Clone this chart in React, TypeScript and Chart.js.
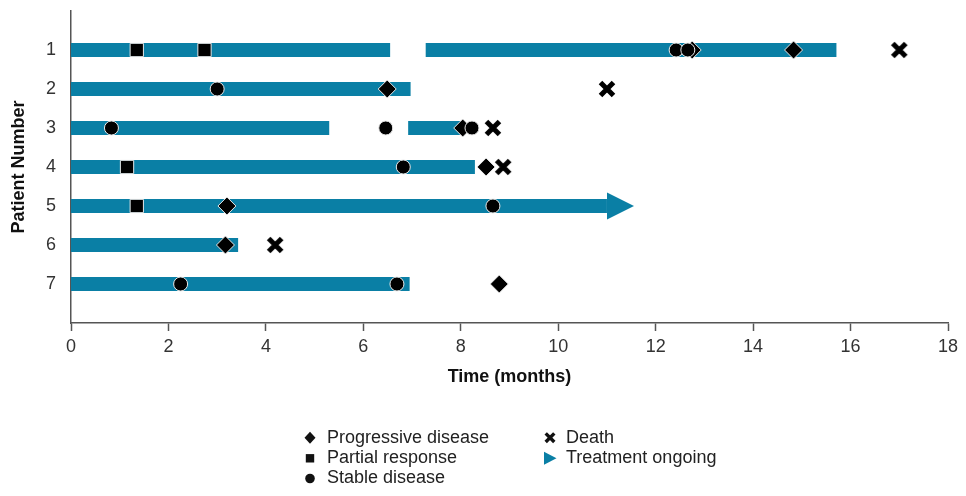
import React, { useEffect, useRef } from "react";
import { Chart, registerables } from "chart.js";

Chart.register(...registerables);

// ---- data (months) ----
const patientNumbers = [1, 2, 3, 4, 5, 6, 7];
const xTickStep = 2;
const xMax = 18;

// [patient, start month, end month]
const treatmentSegments: [number, number, number][] = [
  [1, 0, 6.55],
  [1, 7.28, 15.71],
  [2, 0, 6.97],
  [3, 0, 5.3],
  [3, 6.92, 8.05],
  [4, 0, 8.29],
  [5, 0, 11.0],
  [6, 0, 3.43],
  [7, 0, 6.95],
];

// [patient, month]
const progressiveDisease: [number, number][] = [
  [1, 12.75], [1, 14.83], [2, 6.49], [3, 8.04], [4, 8.52], [5, 3.2], [6, 3.17], [7, 8.79],
];
const partialResponse: [number, number][] = [
  [1, 1.35], [1, 2.74], [4, 1.15], [5, 1.35],
];
const stableDisease: [number, number][] = [
  [1, 12.42], [1, 12.66], [2, 3.0], [3, 0.83], [3, 6.46], [3, 8.23], [4, 6.82], [5, 8.66], [7, 2.25], [7, 6.69],
];
const deaths: [number, number][] = [
  [1, 17.0], [2, 11.0], [3, 8.66], [4, 8.87], [6, 4.19],
];
const treatmentOngoing: [number, number][] = [[5, 11.0]];

const legendLabels = [
  "Progressive disease",
  "Partial response",
  "Stable disease",
  "Death",
  "Treatment ongoing",
];

const BAR = "#0a7fa5";
const FONT = "'Liberation Sans', Arial, sans-serif";

const pts = (arr: [number, number][]) => arr.map(([p, t]) => ({ x: t, y: p }));

function makeCross(): HTMLCanvasElement {
  const c = document.createElement("canvas");
  c.width = 20;
  c.height = 20;
  const g = c.getContext("2d")!;
  g.strokeStyle = "#000";
  g.lineWidth = 5;
  g.lineCap = "butt";
  g.beginPath();
  g.moveTo(3.5, 3.5);
  g.lineTo(16.5, 16.5);
  g.moveTo(16.5, 3.5);
  g.lineTo(3.5, 16.5);
  g.stroke();
  return c;
}

function makeArrowHead(): HTMLCanvasElement {
  const c = document.createElement("canvas");
  c.width = 56;
  c.height = 28;
  const g = c.getContext("2d")!;
  g.fillStyle = BAR;
  g.beginPath();
  g.moveTo(28, 0.5);
  g.lineTo(55, 14);
  g.lineTo(28, 27.5);
  g.closePath();
  g.fill();
  return c;
}

const legendPlugin = {
  id: "customLegend",
  afterDraw(chart: any) {
    const ctx: CanvasRenderingContext2D = chart.ctx;
    ctx.save();
    ctx.font = `18px ${FONT}`;
    ctx.textBaseline = "middle";
    ctx.textAlign = "left";
    const rows = [437.7, 458.3, 478.5];
    const c1m = 310, c1t = 327;
    const c2m = 550, c2t = 566;
    // diamond
    ctx.fillStyle = "#111";
    ctx.beginPath();
    ctx.moveTo(c1m, rows[0] - 6);
    ctx.lineTo(c1m + 5.5, rows[0]);
    ctx.lineTo(c1m, rows[0] + 6);
    ctx.lineTo(c1m - 5.5, rows[0]);
    ctx.closePath();
    ctx.fill();
    // square
    ctx.fillRect(c1m - 4.2, rows[1] - 4.2, 8.4, 8.4);
    // circle
    ctx.beginPath();
    ctx.arc(c1m, rows[2], 4.8, 0, Math.PI * 2);
    ctx.fill();
    // cross
    ctx.strokeStyle = "#111";
    ctx.lineWidth = 3.4;
    ctx.beginPath();
    ctx.moveTo(c2m - 4.3, rows[0] - 4.3);
    ctx.lineTo(c2m + 4.3, rows[0] + 4.3);
    ctx.moveTo(c2m + 4.3, rows[0] - 4.3);
    ctx.lineTo(c2m - 4.3, rows[0] + 4.3);
    ctx.stroke();
    // triangle
    ctx.fillStyle = BAR;
    ctx.beginPath();
    ctx.moveTo(c2m - 6, rows[1] - 6.5);
    ctx.lineTo(c2m + 6.5, rows[1]);
    ctx.lineTo(c2m - 6, rows[1] + 6.5);
    ctx.closePath();
    ctx.fill();
    // labels
    ctx.fillStyle = "#222";
    ctx.fillText(legendLabels[0], c1t, rows[0]);
    ctx.fillText(legendLabels[1], c1t, rows[1]);
    ctx.fillText(legendLabels[2], c1t, rows[2]);
    ctx.fillText(legendLabels[3], c2t, rows[0]);
    ctx.fillText(legendLabels[4], c2t, rows[1]);
    ctx.restore();
  },
};

export default function App() {
  const ref = useRef<HTMLCanvasElement | null>(null);

  useEffect(() => {
    if (!ref.current) return;
    const cross = makeCross();
    const arrow = makeArrowHead();

    const segmentSets = treatmentSegments.map(([p, s, e]) => ({
      type: "line" as const,
      label: "Treatment",
      data: [
        { x: s, y: p },
        { x: e, y: p },
      ],
      showLine: true,
      borderColor: BAR,
      backgroundColor: BAR,
      borderWidth: 14,
      borderCapStyle: "butt" as const,
      pointRadius: 0,
      order: 10,
    }));

    const chart = new Chart(ref.current, {
      type: "scatter",
      data: {
        datasets: [
          ...segmentSets,
          {
            label: legendLabels[4],
            data: pts(treatmentOngoing),
            pointStyle: arrow,
            pointRadius: 10,
            order: 9,
          },
          {
            label: legendLabels[0],
            data: pts(progressiveDisease),
            pointStyle: "rectRot",
            pointRadius: 9,
            backgroundColor: "#000",
            borderColor: "#e8e8e8",
            borderWidth: 1,
            order: 4,
          },
          {
            label: legendLabels[3],
            data: pts(deaths),
            pointStyle: cross,
            pointRadius: 10,
            order: 5,
          },
          {
            label: legendLabels[1],
            data: pts(partialResponse),
            pointStyle: "rect",
            pointRadius: 9.4,
            backgroundColor: "#000",
            borderColor: "#e8e8e8",
            borderWidth: 1,
            order: 2,
          },
          {
            label: legendLabels[2],
            data: pts(stableDisease),
            pointStyle: "circle",
            pointRadius: 7,
            backgroundColor: "#000",
            borderColor: "#e8e8e8",
            borderWidth: 1,
            order: 1,
          },
        ] as any,
      },
      options: {
        animation: false,
        responsive: false,
        events: [],
        layout: { padding: { top: 11, right: 18, bottom: 98, left: 0 } },
        plugins: {
          legend: { display: false },
          tooltip: { enabled: false },
        },
        scales: {
          x: {
            type: "linear",
            min: 0,
            max: xMax,
            afterFit: (s: any) => {
              s.height = 75;
              s.paddingLeft = 0;
              s.paddingRight = 0;
            },
            ticks: {
              stepSize: xTickStep,
              color: "#333",
              padding: 5,
              font: { family: FONT, size: 18 },
            },
            grid: {
              drawOnChartArea: false,
              drawTicks: true,
              tickLength: 8,
              tickColor: "#555",
              tickWidth: 1.5,
            },
            border: { display: true, color: "#555", width: 1.5 },
            title: {
              display: true,
              text: "Time (months)",
              color: "#111",
              font: { family: FONT, size: 18, weight: "bold" },
              padding: { top: 0, bottom: 10 },
            },
          },
          y: {
            type: "linear",
            reverse: true,
            min: 0,
            max: patientNumbers.length + 1,
            afterFit: (s: any) => {
              s.width = 71;
              s.paddingTop = 0;
              s.paddingBottom = 0;
            },
            ticks: {
              stepSize: 1,
              color: "#333",
              padding: 15,
              font: { family: FONT, size: 18 },
              callback: (v: any) => (patientNumbers.includes(Number(v)) ? String(v) : ""),
            },
            grid: { drawOnChartArea: false, drawTicks: false },
            border: { display: true, color: "#555", width: 1.5 },
            title: {
              display: true,
              text: "Patient Number",
              color: "#111",
              font: { family: FONT, size: 18, weight: "bold" },
              padding: { top: 8, bottom: 0 },
            },
          },
        },
      } as any,
      plugins: [legendPlugin],
    });
    return () => chart.destroy();
  }, []);

  return (
    <div style={{ position: "fixed", left: 0, top: 0, width: 966, height: 496, background: "#fff" }}>
      <canvas ref={ref} width={966} height={496} style={{ width: 966, height: 496, display: "block" }} />
    </div>
  );
}
